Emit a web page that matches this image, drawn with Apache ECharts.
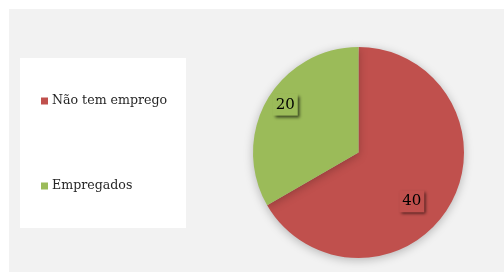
<!DOCTYPE html>
<html>
<head>
<meta charset="utf-8">
<script src="https://cdn.jsdelivr.net/npm/echarts@6/dist/echarts.min.js"></script>
<style>
  html, body { margin: 0; padding: 0; background: #fff; }
  #chart { width: 504px; height: 272px; }
</style>
</head>
<body>
<div id="chart"></div>
<script>
var categories = ['Não tem emprego', 'Empregados']
var values = [40, 20]
var colors = ['#c0504d', '#9bbb59']
// nudges so the labels sit where the original put them
var labelOffsets = [[5, 21], [-25, -20]]

var chart = echarts.init(document.getElementById('chart'))
var font = '"DejaVu Serif", "Liberation Serif", serif'

chart.setOption({
  backgroundColor: '#ffffff',
  animation: false,
  graphic: [
    { type: 'rect', shape: { x: 9, y: 9, width: 495, height: 263 }, style: { fill: '#f2f2f2' } },
    { type: 'rect', shape: { x: 20, y: 58, width: 166, height: 170 }, style: { fill: '#ffffff' } }
  ],
  legend: {
    orient: 'vertical',
    left: 41,
    top: 94,
    padding: 0,
    itemWidth: 7,
    itemHeight: 7,
    itemGap: 71,
    icon: 'rect',
    textStyle: {
      fontFamily: font,
      fontSize: 12.6,
      color: '#262626',
      padding: [0, 0, 0, -1],
      lineHeight: 14,
      height: 14
    },
    data: categories
  },
  series: [{
    type: 'pie',
    center: [358.5, 152.5],
    radius: 105.5,
    startAngle: 90,
    clockwise: true,
    label: {
      show: true,
      position: 'inside',
      fontFamily: font,
      fontSize: 15,
      color: '#000',
      padding: [4, 3, 3, 3],
      shadowColor: 'rgba(0,0,0,0.65)',
      shadowBlur: 3,
      shadowOffsetX: 2,
      shadowOffsetY: 2,
      formatter: '{c}'
    },
    labelLine: { show: false },
    emphasis: { disabled: true },
    itemStyle: {
      shadowColor: 'rgba(0,0,0,0.25)',
      shadowBlur: 10,
      shadowOffsetY: 2
    },
    data: categories.map(function (name, i) {
      return {
        name: name,
        value: values[i],
        itemStyle: { color: colors[i] },
        label: { offset: labelOffsets[i], backgroundColor: colors[i] }
      }
    })
  }]
})
</script>
</body>
</html>
